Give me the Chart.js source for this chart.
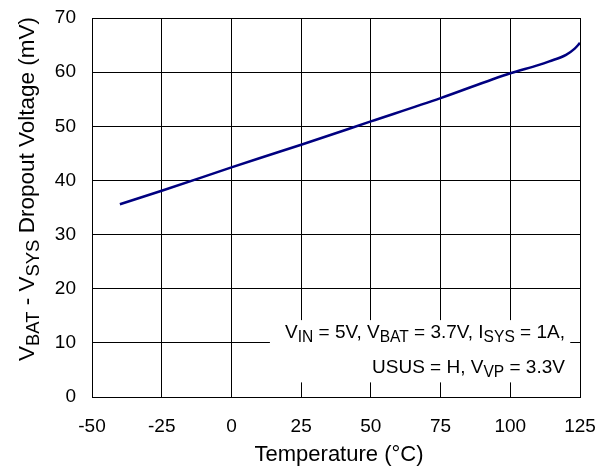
<!DOCTYPE html>
<html>
<head>
<meta charset="utf-8">
<script src="https://cdn.jsdelivr.net/npm/chart.js@4.4.1/dist/chart.umd.min.js"></script>
<style>
  html, body { margin: 0; padding: 0; background: #fff; }
  #wrap { width: 615px; height: 471px; }
</style>
</head>
<body>
<div id="wrap"><canvas id="myChart" width="615" height="471"></canvas></div>
<script>
// temperature (deg C) and dropout voltage (mV)
var temps = [-40, -25, 0, 10, 25, 50, 75, 100, 110, 114, 120, 123, 125];
var dropout = [35.6, 38.1, 42.4, 44.1, 46.6, 50.9, 55.2, 59.8, 61.3, 62.0, 63.2, 64.3, 65.4];

var xTicks = [-50, -25, 0, 25, 50, 75, 100, 125];
var yTicks = [0, 10, 20, 30, 40, 50, 60, 70];

var FONT = '"Liberation Sans", Arial, sans-serif';

// text runs: [text, isSubscript]
var yTitleRuns = [['V', 0], ['BAT', 1], [' - V', 0], ['SYS', 1], [' Dropout Voltage (mV)', 0]];
var note1 = [['V', 0], ['IN', 1], [' = 5V, V', 0], ['BAT', 1], [' = 3.7V, I', 0], ['SYS', 1], [' = 1A,', 0]];
var note2 = [['USUS = H, V', 0], ['VP', 1], [' = 3.3V', 0]];

function runsWidth(ctx, runs, size) {
    var w = 0;
    runs.forEach(function (r) {
        ctx.font = (r[1] ? size * 0.82 : size) + 'px ' + FONT;
        w += ctx.measureText(r[0]).width;
    });
    return w;
}

function drawRuns(ctx, runs, x, y, size) {
    ctx.textBaseline = 'middle';
    ctx.textAlign = 'left';
    runs.forEach(function (r) {
        ctx.font = (r[1] ? size * 0.82 : size) + 'px ' + FONT;
        ctx.fillText(r[0], x, r[1] ? y + size * 0.25 : y);
        x += ctx.measureText(r[0]).width;
    });
}

var textPlugin = {
    id: 'textPlugin',
    beforeDatasetsDraw: function (chart) {
        var ctx = chart.ctx;
        var xs = chart.scales.x, ys = chart.scales.y;
        ctx.save();
        // white box behind the condition note
        var bx1 = xs.getPixelForValue(13.8), bx2 = xs.getPixelForValue(121.5);
        var by1 = ys.getPixelForValue(14.2), by2 = ys.getPixelForValue(2.7);
        ctx.fillStyle = '#fff';
        ctx.fillRect(bx1, by1, bx2 - bx1, by2 - by1);
        ctx.fillStyle = '#000';
        var rx = xs.getPixelForValue(119.6);
        drawRuns(ctx, note1, rx - runsWidth(ctx, note1, 19), ys.getPixelForValue(11.8), 19);
        drawRuns(ctx, note2, rx - runsWidth(ctx, note2, 19), ys.getPixelForValue(5.35), 19);
        ctx.restore();
    },
    afterDraw: function (chart) {
        var ctx = chart.ctx;
        ctx.save();
        ctx.fillStyle = '#000';
        // x title
        ctx.font = '22px ' + FONT;
        ctx.textAlign = 'center';
        ctx.textBaseline = 'middle';
        ctx.fillText('Temperature (\u00B0C)', 339, 455);
        // y title, rotated
        ctx.translate(28, 189);
        ctx.rotate(-Math.PI / 2);
        var w = runsWidth(ctx, yTitleRuns, 22.5);
        drawRuns(ctx, yTitleRuns, -w / 2, 0, 22.5);
        ctx.restore();
    }
};

var ctx = document.querySelector('#myChart').getContext('2d');
var myChart = new Chart(ctx, {
    type: 'scatter',
    data: {
        datasets: [{
            label: 'Dropout',
            data: temps.map(function (t, i) { return { x: t, y: dropout[i] }; }),
            showLine: true,
            borderColor: '#000080',
            borderWidth: 2.5,
            pointRadius: 0,
            cubicInterpolationMode: 'monotone'
        }]
    },
    options: {
        responsive: false,
        animation: false,
        layout: { padding: { left: 0, top: 18, right: 35, bottom: 0 } },
        plugins: {
            legend: { display: false },
            tooltip: { enabled: false }
        },
        scales: {
            x: {
                type: 'linear',
                min: -50, max: 125,
                afterBuildTicks: function (s) { s.ticks = xTicks.map(function (v) { return { value: v }; }); },
                afterFit: function (s) { s.height = 74; s.paddingLeft = 0; s.paddingRight = 0; },
                grid: { color: '#000', lineWidth: 1, drawTicks: false },
                border: { color: '#000', width: 1 },
                ticks: { color: '#000', padding: 18, maxRotation: 0, autoSkip: false, font: { family: FONT, size: 19 } }
            },
            y: {
                min: 0, max: 70,
                afterBuildTicks: function (s) { s.ticks = yTicks.map(function (v) { return { value: v }; }); },
                afterFit: function (s) { s.width = 92; s.paddingTop = 0; s.paddingBottom = 0; },
                grid: { color: '#000', lineWidth: 1, drawTicks: false },
                border: { color: '#000', width: 1 },
                ticks: { color: '#000', padding: 16, font: { family: FONT, size: 19 } }
            }
        }
    },
    plugins: [textPlugin]
});
</script>
</body>
</html>
